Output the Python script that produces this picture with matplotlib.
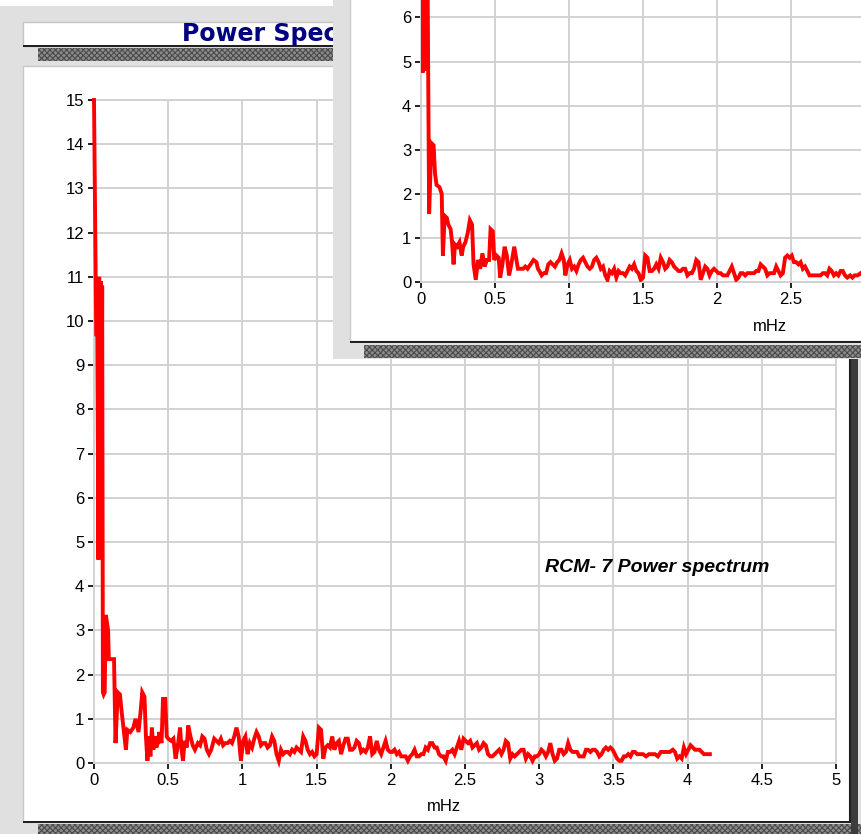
import matplotlib
matplotlib.use("Agg")
import matplotlib.pyplot as plt
from matplotlib.patches import Rectangle
from matplotlib.transforms import Affine2D

# ---------------- data ----------------
main_freq = [0.000, 0.015, 0.022, 0.030, 0.035, 0.040, 0.045, 0.050, 0.055, 0.060,
             0.065, 0.072, 0.080, 0.095,
             0.100, 0.135, 0.145, 0.160, 0.175, 0.185, 0.195, 0.205, 0.215, 0.225,
             0.245, 0.265, 0.280, 0.300, 0.315, 0.325, 0.340, 0.350, 0.360, 0.370,
             0.380, 0.390, 0.400, 0.410, 0.420, 0.430, 0.440, 0.455, 0.465, 0.480,
             0.490, 0.500, 0.520, 0.535, 0.550, 0.565, 0.580, 0.590, 0.600, 0.610,
             0.625, 0.635, 0.650, 0.665, 0.680, 0.700, 0.715, 0.730, 0.745, 0.760,
             0.775, 0.790, 0.810, 0.825, 0.840, 0.855, 0.870, 0.885, 0.900, 0.915,
             0.930, 0.945, 0.960, 0.975, 0.990, 1.005, 1.020, 1.035, 1.050, 1.065,
             1.080, 1.095, 1.110, 1.125, 1.140, 1.155, 1.170, 1.185, 1.200, 1.215,
             1.230, 1.245, 1.260, 1.275, 1.290, 1.305, 1.320, 1.335, 1.350, 1.365,
             1.380, 1.395, 1.410, 1.425, 1.440, 1.455, 1.470, 1.485, 1.500, 1.515,
             1.530, 1.545, 1.560, 1.575, 1.590, 1.605, 1.620, 1.635, 1.650, 1.665,
             1.680, 1.695, 1.710, 1.725, 1.740, 1.755, 1.770, 1.785, 1.800, 1.815,
             1.830, 1.845, 1.860, 1.875, 1.890, 1.905, 1.920, 1.935, 1.950, 1.965,
             1.980, 1.995, 2.010, 2.025, 2.040, 2.055, 2.070, 2.085, 2.100, 2.115,
             2.130, 2.145, 2.160, 2.175, 2.190, 2.205, 2.220, 2.235, 2.250, 2.265,
             2.280, 2.295, 2.310, 2.325, 2.340, 2.355, 2.370, 2.385, 2.400, 2.415,
             2.430, 2.445, 2.460, 2.475, 2.490, 2.505, 2.520, 2.535, 2.550, 2.565,
             2.580, 2.595, 2.610, 2.625, 2.640, 2.655, 2.670, 2.685, 2.700, 2.715,
             2.730, 2.745, 2.760, 2.775, 2.790, 2.805, 2.820, 2.835, 2.850, 2.865,
             2.880, 2.895, 2.910, 2.925, 2.940, 2.955, 2.970, 2.985, 3.000, 3.015,
             3.030, 3.045, 3.060, 3.075, 3.090, 3.105, 3.120, 3.135, 3.150, 3.165,
             3.180, 3.195, 3.210, 3.225, 3.240, 3.255, 3.270, 3.285, 3.300, 3.315,
             3.330, 3.345, 3.360, 3.375, 3.390, 3.405, 3.420, 3.435, 3.450, 3.465,
             3.480, 3.495, 3.510, 3.525, 3.540, 3.555, 3.570, 3.585, 3.600, 3.615,
             3.630, 3.645, 3.660, 3.700, 3.720, 3.740, 3.780, 3.800, 3.820, 3.860,
             3.880, 3.900, 3.915, 3.930, 3.945, 3.960, 3.975, 3.990, 4.005, 4.020,
             4.035, 4.050, 4.065, 4.080, 4.095, 4.110, 4.125, 4.140, 4.150]
main_power = [15.0, 9.7, 9.7, 4.6, 11.0, 4.7, 10.9, 4.8, 10.8, 1.6,
              1.55, 1.6, 3.35, 3.0,
              2.35, 2.35, 0.45, 1.6, 1.55, 1.2, 0.9, 0.6, 0.3, 0.75,
              0.7, 0.8, 1.0, 0.7, 1.2, 1.6, 1.5, 0.6, 0.05, 0.6,
              0.15, 0.8, 0.3, 0.6, 0.35, 0.45, 0.7, 0.45, 1.45, 1.45,
              0.6, 0.55, 0.5, 0.55, 0.1, 0.4, 0.8, 0.3, 0.05, 0.5,
              0.35, 0.85, 0.6, 0.4, 0.3, 0.45, 0.4, 0.6, 0.55, 0.3,
              0.2, 0.3, 0.55, 0.5, 0.45, 0.55, 0.4, 0.45, 0.45, 0.5,
              0.45, 0.6, 0.8, 0.6, 0.05, 0.5, 0.6, 0.2, 0.45, 0.35,
              0.55, 0.7, 0.6, 0.4, 0.45, 0.45, 0.35, 0.4, 0.6, 0.5,
              0.2, 0.05, 0.3, 0.2, 0.25, 0.25, 0.2, 0.3, 0.25, 0.35,
              0.3, 0.25, 0.6, 0.5, 0.3, 0.2, 0.25, 0.15, 0.2, 0.8,
              0.75, 0.1, 0.35, 0.4, 0.35, 0.6, 0.3, 0.45, 0.5, 0.2,
              0.4, 0.55, 0.55, 0.3, 0.3, 0.35, 0.5, 0.45, 0.25, 0.3,
              0.25, 0.35, 0.6, 0.2, 0.25, 0.5, 0.3, 0.2, 0.35, 0.5,
              0.3, 0.25, 0.25, 0.3, 0.2, 0.25, 0.15, 0.15, 0.15, 0.05,
              0.15, 0.2, 0.3, 0.15, 0.15, 0.2, 0.2, 0.35, 0.3, 0.45,
              0.45, 0.35, 0.35, 0.2, 0.15, 0.15, 0.05, 0.25, 0.25, 0.3,
              0.2, 0.35, 0.5, 0.3, 0.55, 0.5, 0.45, 0.5, 0.35, 0.4,
              0.45, 0.3, 0.35, 0.45, 0.4, 0.2, 0.15, 0.15, 0.2, 0.25,
              0.3, 0.2, 0.3, 0.5, 0.45, 0.1, 0.2, 0.15, 0.2, 0.25,
              0.3, 0.3, 0.1, 0.2, 0.15, 0.05, 0.15, 0.15, 0.2, 0.3,
              0.25, 0.15, 0.25, 0.45, 0.2, 0.05, 0.1, 0.3, 0.3, 0.2,
              0.25, 0.45, 0.3, 0.25, 0.25, 0.25, 0.15, 0.15, 0.15, 0.3,
              0.3, 0.25, 0.3, 0.3, 0.25, 0.15, 0.2, 0.3, 0.35, 0.3,
              0.35, 0.3, 0.2, 0.1, 0.05, 0.05, 0.15, 0.15, 0.2, 0.15,
              0.25, 0.25, 0.2, 0.2, 0.15, 0.2, 0.2, 0.15, 0.25, 0.25,
              0.25, 0.3, 0.25, 0.1, 0.15, 0.1, 0.35, 0.2, 0.3, 0.4,
              0.35, 0.3, 0.3, 0.3, 0.25, 0.2, 0.2, 0.2, 0.2]

inset_freq = [0.000, 0.012, 0.018, 0.024, 0.030, 0.036, 0.042, 0.048, 0.055, 0.070,
              0.085, 0.095, 0.105,
              0.125, 0.140, 0.148, 0.160, 0.175, 0.185, 0.200, 0.210, 0.220, 0.230,
              0.245, 0.260, 0.275, 0.285, 0.300, 0.315, 0.330, 0.345, 0.355, 0.370,
              0.385, 0.400, 0.415, 0.430, 0.445, 0.460, 0.470, 0.485, 0.495, 0.510,
              0.525, 0.535, 0.550, 0.565, 0.580, 0.595, 0.610, 0.630, 0.640, 0.655,
              0.670, 0.690, 0.705, 0.720, 0.740, 0.760, 0.780, 0.790, 0.800, 0.815,
              0.830, 0.845, 0.860, 0.875, 0.890, 0.905, 0.920, 0.935, 0.950, 0.965,
              0.975, 0.990, 1.005, 1.020, 1.035, 1.050, 1.065, 1.080, 1.095, 1.110,
              1.125, 1.140, 1.155, 1.170, 1.185, 1.200, 1.215, 1.230, 1.245, 1.260,
              1.275, 1.290, 1.305, 1.320, 1.335, 1.350, 1.365, 1.380, 1.395, 1.410,
              1.425, 1.440, 1.455, 1.470, 1.485, 1.500, 1.515, 1.530, 1.545, 1.560,
              1.575, 1.590, 1.605, 1.620, 1.635, 1.650, 1.665, 1.680, 1.695, 1.710,
              1.725, 1.740, 1.755, 1.770, 1.785, 1.800, 1.815, 1.830, 1.845, 1.860,
              1.875, 1.890, 1.905, 1.920, 1.935, 1.950, 1.965, 1.980, 1.995, 2.010,
              2.025, 2.040, 2.055, 2.070, 2.085, 2.100, 2.115, 2.130, 2.145, 2.160,
              2.175, 2.190, 2.205, 2.220, 2.235, 2.250, 2.265, 2.280, 2.295, 2.310,
              2.325, 2.340, 2.355, 2.370, 2.385, 2.400, 2.415, 2.430, 2.445, 2.460,
              2.475, 2.490, 2.505, 2.520, 2.535, 2.550, 2.565, 2.580, 2.595, 2.610,
              2.625, 2.640, 2.660, 2.680, 2.700, 2.715, 2.730, 2.745, 2.760, 2.775,
              2.790, 2.805, 2.820, 2.835, 2.850, 2.865, 2.880, 2.900, 2.915, 2.930,
              2.950, 2.970, 2.990, 3.010, 3.030]
inset_power = [13.0, 4.75, 9.5, 4.8, 9.0, 4.8, 8.5, 5.0, 1.55, 3.15,
               3.1, 2.45, 2.2,
               2.15, 2.0, 0.6, 1.5, 1.45, 1.3, 1.2, 0.9, 0.4, 0.85,
               0.8, 0.9, 0.6, 0.8, 0.9, 1.1, 1.4, 1.3, 0.4, 0.05,
               0.5, 0.3, 0.65, 0.35, 0.5, 0.5, 1.2, 1.15, 0.5, 0.6,
               0.55, 0.1, 0.4, 0.8, 0.6, 0.15, 0.4, 0.8, 0.6, 0.3,
               0.3, 0.3, 0.35, 0.3, 0.4, 0.5, 0.45, 0.3, 0.25, 0.15,
               0.2, 0.2, 0.4, 0.45, 0.4, 0.35, 0.45, 0.5, 0.65, 0.5,
               0.15, 0.4, 0.5, 0.3, 0.35, 0.25, 0.4, 0.5, 0.55, 0.45,
               0.35, 0.3, 0.35, 0.5, 0.55, 0.45, 0.3, 0.35, 0.15, 0.05,
               0.25, 0.2, 0.3, 0.1, 0.25, 0.2, 0.2, 0.15, 0.25, 0.35,
               0.3, 0.4, 0.25, 0.2, 0.05, 0.1, 0.6, 0.55, 0.25, 0.25,
               0.3, 0.4, 0.3, 0.55, 0.45, 0.3, 0.35, 0.5, 0.45, 0.35,
               0.3, 0.25, 0.25, 0.3, 0.3, 0.15, 0.2, 0.2, 0.3, 0.5,
               0.45, 0.05, 0.2, 0.35, 0.3, 0.15, 0.25, 0.3, 0.25, 0.2,
               0.2, 0.15, 0.15, 0.15, 0.25, 0.35, 0.2, 0.05, 0.1, 0.2,
               0.2, 0.15, 0.2, 0.2, 0.2, 0.2, 0.25, 0.25, 0.4, 0.35,
               0.3, 0.15, 0.2, 0.2, 0.2, 0.35, 0.25, 0.15, 0.2, 0.55,
               0.6, 0.55, 0.6, 0.45, 0.45, 0.4, 0.45, 0.3, 0.35, 0.25,
               0.15, 0.15, 0.15, 0.15, 0.15, 0.2, 0.2, 0.15, 0.3, 0.25,
               0.15, 0.2, 0.15, 0.25, 0.25, 0.15, 0.1, 0.15, 0.1, 0.15,
               0.15, 0.2, 0.15, 0.1, 0.15]

x_ticks = [0, 0.5, 1, 1.5, 2, 2.5, 3, 3.5, 4, 4.5, 5]
x_tick_labels = ["0", "0.5", "1", "1.5", "2", "2.5", "3", "3.5", "4", "4.5", "5"]
main_y_ticks = list(range(0, 16))
inset_y_ticks = list(range(0, 7))
window_title = "Power Spectrum"
chart_note = "RCM- 7 Power spectrum"
x_label = "mHz"

# ---------------- layout helpers ----------------
W, H = 862, 834
fig = plt.figure(figsize=(W / 100, H / 100), dpi=100, facecolor="#e0e0e0")
pix = Affine2D().scale(1 / W, -1 / H).translate(0, 1) + fig.transFigure

BG = "#e0e0e0"
GRID = "#d2d2d2"
RED = "#ff0000"
FONT = "Liberation Sans"
plt.rcParams["hatch.linewidth"] = 0.8


def box(x, y, w, h, z, fc="white", ec="none", lw=0, hatch=None):
    r = Rectangle((x, y), w, h, transform=pix, facecolor=fc, edgecolor=ec,
                  linewidth=lw, hatch=hatch, zorder=z)
    fig.add_artist(r)
    return r


def shadow(x, y, w, h, z):
    box(x, y, w, h, z, fc="#8c8c8c", ec="#4a4a4a", lw=0, hatch="xxxxxx")


def ax_rect(left, top, w, h):
    return [left / W, 1 - (top + h) / H, w / W, h / H]


# top white strip
box(0, 0, 335, 6, 0.1)

# title bar of main window
box(23, 22, 330, 24, 0.2, fc="white", ec="#c4c4c4", lw=1)
box(23, 45, 330, 2, 0.25, fc="#202020")
shadow(38, 48, 315, 13, 0.2)
fig.text(182 / W, 1 - 34 / H, window_title, color="#000080", fontsize=17,
         fontweight="bold", family="DejaVu Sans", va="center", ha="left", zorder=0.3)

# main window panel
box(23, 66, 826, 756, 0.2, fc="white", ec="#c8c8c8", lw=1)
box(23, 821, 828, 2, 0.25, fc="#202020")
box(849, 70, 2, 752, 0.25, fc="#202020")
shadow(38, 824, 824, 10, 0.2)
box(851, 76, 7, 758, 0.22, fc="#3c3c3c")


def style_axes(ax, yticks, xlim, ylim):
    ax.set_facecolor("white")
    ax.set_xticks(x_ticks)
    ax.set_xticklabels(x_tick_labels)
    ax.set_yticks(yticks)
    ax.set_xlim(*xlim)
    ax.set_ylim(*ylim)
    ax.grid(True, color=GRID, linewidth=1.4, zorder=0)
    ax.set_axisbelow(True)
    for s in ax.spines.values():
        s.set_color(GRID)
        s.set_linewidth(1.4)
    ax.tick_params(direction="out", length=4, width=1.4, color="#202020",
                   labelsize=12, pad=3)
    for lab in ax.get_xticklabels() + ax.get_yticklabels():
        lab.set_fontfamily(FONT)


# main axes: x 0 at px 94, 148.4 px per mHz; y 0 at px 763, 44.2 px per unit
ax = fig.add_axes(ax_rect(94, 100, 742, 663), zorder=1)
ax.plot(main_freq, main_power, color=RED, linewidth=2.8, solid_joinstyle="miter",
        zorder=3, clip_on=False)
style_axes(ax, main_y_ticks, (0, 5), (0, 15))
ax.annotate(x_label, xy=(2.36, 0), xycoords="data", xytext=(0, -31),
            textcoords="offset points", ha="center", va="center",
            fontsize=12, family=FONT)
ax.text(3.04, 4.43, chart_note, fontsize=14, fontweight="bold", style="italic",
        family=FONT, va="center", ha="left")

# inset window (front)
box(333, 0, 529, 359, 5, fc=BG)
box(350, -2, 514, 343, 5.1, fc="white", ec="#c8c8c8", lw=1)
box(350, 341, 512, 2, 5.2, fc="#202020")
shadow(364, 345, 498, 13, 5.1)

iw = 3.2 * 148.0
ih = 6.6 * 44.1
ax2 = fig.add_axes(ax_rect(421, 282 - ih, iw, ih), zorder=6)
ax2.plot(inset_freq, inset_power, color=RED, linewidth=2.8, solid_joinstyle="miter",
         zorder=3)
style_axes(ax2, inset_y_ticks, (0, 3.2), (0, 6.6))
ax2.spines["top"].set_visible(False)
ax2.spines["right"].set_visible(False)
ax2.annotate(x_label, xy=(2.36, 0), xycoords="data", xytext=(0, -32),
             textcoords="offset points", ha="center", va="center",
             fontsize=12, family=FONT)

fig.savefig("out.png", dpi=100, facecolor=fig.get_facecolor())
